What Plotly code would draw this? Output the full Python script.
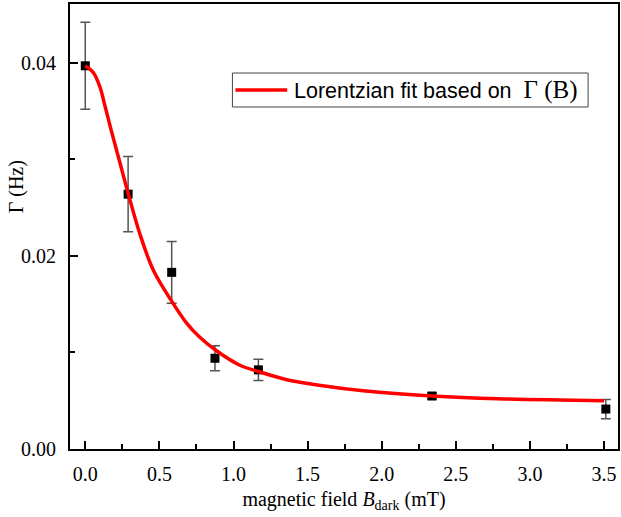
import plotly.graph_objects as go

# measured data
B_field = [0.0, 0.289, 0.583, 0.875, 1.168, 2.339, 3.512]
Gamma = [0.0397, 0.0264, 0.0183, 0.0094, 0.0082, 0.00549, 0.00414]
Gamma_err = [0.0045, 0.0039, 0.0032, 0.0013, 0.0011, 0.0003, 0.0010]

# Lorentzian fit curve
fit_B = [0, 0.054, 0.099, 0.132, 0.177, 0.233, 0.289, 0.368, 0.457, 0.575, 0.681,
         0.771, 0.883, 1.04, 1.174, 1.353, 1.577, 1.891, 2.339, 2.787, 3.5]
fit_Gamma = [0.0397, 0.0390, 0.0375, 0.0356, 0.0329, 0.0297, 0.0265, 0.0223, 0.0186,
             0.0155, 0.0131, 0.0116, 0.0102, 0.0087, 0.0080, 0.0072, 0.0066, 0.0060,
             0.00549, 0.0052, 0.0050]
legend_label = ('Lorentzian fit based on &nbsp;'
                '<span style="font-family:Liberation Serif;font-size:25px">\u0393 (B)</span>')

serif = "Liberation Serif"
sans = "Liberation Sans"

# plot area in pixels (for placing the legend box)
L, R, T, Bm = 70, 620, 4, 449
def px(x):
    return (x - L) / (R - L)
def py(y):
    return (Bm - y) / (Bm - T)

fig = go.Figure()
fig.add_trace(go.Scatter(
    x=B_field, y=Gamma, mode="markers", showlegend=False,
    marker=dict(symbol="square", size=9, color="black"),
    error_y=dict(type="data", array=Gamma_err, visible=True,
                 color="#555555", thickness=1.5, width=5),
))
fig.add_trace(go.Scatter(
    x=fit_B, y=fit_Gamma, mode="lines", showlegend=False,
    line=dict(color="#ff0000", width=3.5, shape="spline"),
))

fig.update_layout(
    width=621, height=517,
    margin=dict(l=L, r=621 - R, t=T, b=517 - Bm),
    plot_bgcolor="white", paper_bgcolor="white",
    font=dict(family=serif, size=20, color="black"),
    showlegend=False,
    shapes=[
        dict(type="rect", xref="paper", yref="paper",
             x0=px(233), x1=px(590), y0=py(107), y1=py(73),
             line=dict(color="#444444", width=1), fillcolor="white", layer="above"),
        dict(type="line", xref="paper", yref="paper",
             x0=px(236), x1=px(288), y0=py(90), y1=py(90),
             line=dict(color="#ff0000", width=3.5), layer="above"),
    ],
    annotations=[
        dict(text="\u0393 (Hz)", xref="paper", yref="paper",
             x=-0.098, y=py(187), xanchor="center", yanchor="middle",
             textangle=-90, showarrow=False,
             font=dict(family=serif, size=20, color="black")),
        dict(text=legend_label, xref="paper", yref="paper",
             x=px(293), y=py(90), xanchor="left", yanchor="middle",
             showarrow=False, font=dict(family=sans, size=21.5, color="black")),
    ],
)
fig.update_xaxes(
    range=[-0.103, 3.594], dtick=0.5, tick0=0, tickformat=".1f",
    showline=True, linewidth=2, linecolor="black", mirror=True,
    ticks="inside", ticklen=8, tickwidth=1.5, tickcolor="black",
    minor=dict(dtick=0.25, ticks="inside", ticklen=5, tickwidth=1.5, tickcolor="black"),
    showgrid=False, zeroline=False,
    ticklabelstandoff=6,
    title=dict(text="magnetic field <i>B</i><sub>dark</sub> (mT)", standoff=8,
               font=dict(family=serif, size=20)),
)
fig.update_yaxes(
    range=[0, 0.0461], dtick=0.02, tick0=0, tickformat=".2f",
    showline=True, linewidth=2, linecolor="black", mirror=True,
    ticks="inside", ticklen=8, tickwidth=1.5, tickcolor="black",
    minor=dict(dtick=0.01, ticks="inside", ticklen=5, tickwidth=1.5, tickcolor="black"),
    showgrid=False, zeroline=False,
    ticklabelstandoff=8,
)

fig.write_html("out.html")
